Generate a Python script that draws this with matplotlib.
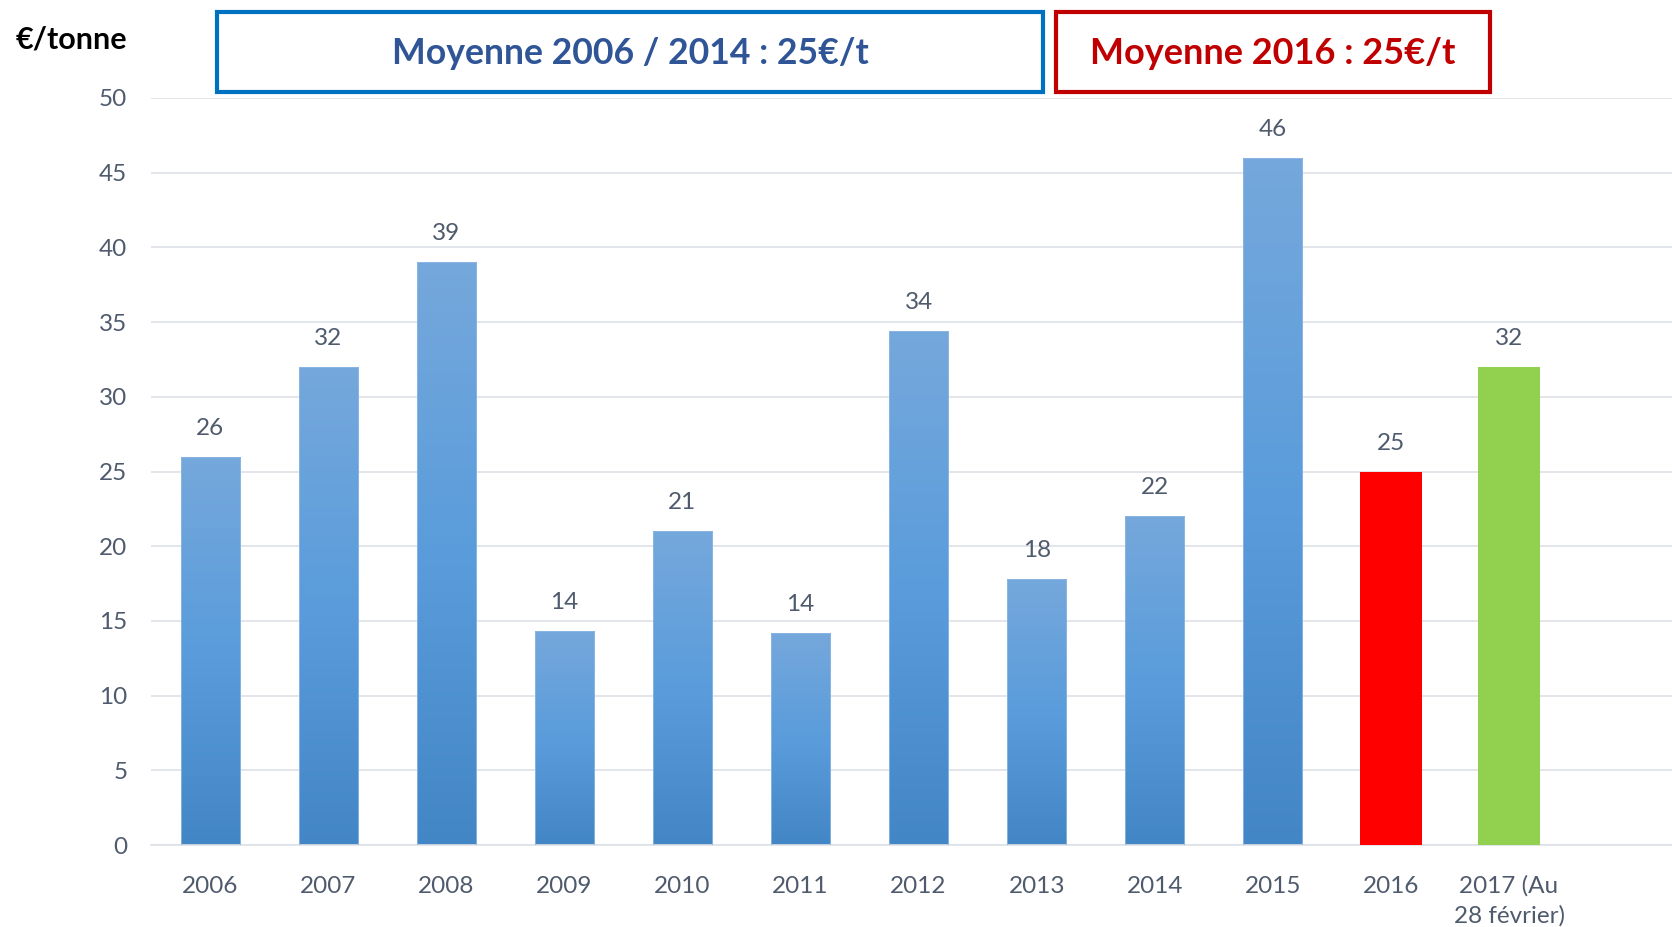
import matplotlib
matplotlib.use("Agg")
import matplotlib.pyplot as plt
import numpy as np
from matplotlib.colors import LinearSegmentedColormap
from matplotlib.patches import Rectangle

categories = ["2006", "2007", "2008", "2009", "2010", "2011", "2012", "2013",
              "2014", "2015", "2016", "2017 (Au\n28 février)"]
values = [26, 32, 39, 14.3, 21, 14.2, 34.4, 17.8, 22, 46, 25, 32]
bar_kind = ["blue"] * 10 + ["red", "green"]
yticks = [0, 5, 10, 15, 20, 25, 30, 35, 40, 45, 50]

plt.rcParams['font.family'] = ['Lato', 'DejaVu Sans']
TXT = "#4F5B6D"
FS = 17.5

fig = plt.figure(figsize=(16.72, 9.27), dpi=100)
ax = fig.add_axes([151/1672, 1 - 845/927, 1 - 151/1672, (845 - 98)/927])

x = np.arange(len(categories))
bars = ax.bar(x, values, width=0.5, zorder=3)
grad = LinearSegmentedColormap.from_list("g", ["#4386C6", "#5A9CDC", "#75A8DB"])
for b, kind in zip(bars, bar_kind):
    if kind == "blue":
        b.set_facecolor("none")
        b.set_edgecolor("#8DB8E6")
        b.set_linewidth(0.6)
        x0, y0 = b.get_x(), 0
        w, h = b.get_width(), b.get_height()
        img = np.linspace(0, 1, 256).reshape(-1, 1)
        im = ax.imshow(img, cmap=grad, origin="lower", aspect="auto",
                       extent=[x0, x0 + w, y0, y0 + h], zorder=2)
        im.set_clip_path(b)
    elif kind == "red":
        b.set_facecolor("#FF0000")
        b.set_width(0.52)
        b.set_x(b.get_x() - 0.01)
    else:
        b.set_facecolor("#92D050")
        b.set_width(0.52)
        b.set_x(b.get_x() - 0.01)

for xi, v in zip(x, values):
    ax.text(xi, v + 1.2, f"{v:.0f}", ha="center", va="bottom", fontsize=FS, color=TXT)

ax.set_xlim(-0.5, 12.38)
ax.set_ylim(0, 50)
ax.set_yticks(yticks)
ax.set_xticks(x)
ax.set_xticklabels(categories, fontsize=FS, color=TXT, linespacing=1.45, va="top")
ax.tick_params(axis="y", labelsize=FS, labelcolor=TXT, length=0, pad=17)
ax.tick_params(axis="x", length=0, pad=22)
ax.grid(axis="y", color="#DDE1E6", linewidth=1.2, zorder=0)
for s in ["top", "right", "left"]:
    ax.spines[s].set_visible(False)
ax.spines["bottom"].set_color("#DDE1E6")
ax.spines["bottom"].set_linewidth(1.2)

fig.text(16/1672, 1 - 40/927, "€/tonne", fontsize=22, fontweight="bold",
         color="black", ha="left", va="center")

# boxes
fig.patches.append(Rectangle((217/1672, 1 - 92/927), (1043 - 217)/1672, (92 - 12)/927,
                             transform=fig.transFigure, fill=False,
                             edgecolor="#0070C0", linewidth=3))
fig.text((217 + 1043) / 2 / 1672, 1 - 54/927, "Moyenne 2006 / 2014 : 25€/t",
         fontsize=25.7, fontweight="bold", color="#2F5597", ha="center", va="center")
fig.patches.append(Rectangle((1056/1672, 1 - 92/927), (1490 - 1056)/1672, (92 - 12)/927,
                             transform=fig.transFigure, fill=False,
                             edgecolor="#C00000", linewidth=3))
fig.text((1056 + 1490) / 2 / 1672, 1 - 54/927, "Moyenne 2016 : 25€/t",
         fontsize=26, fontweight="bold", color="#C00000", ha="center", va="center")

fig.savefig("out.png", dpi=100)
